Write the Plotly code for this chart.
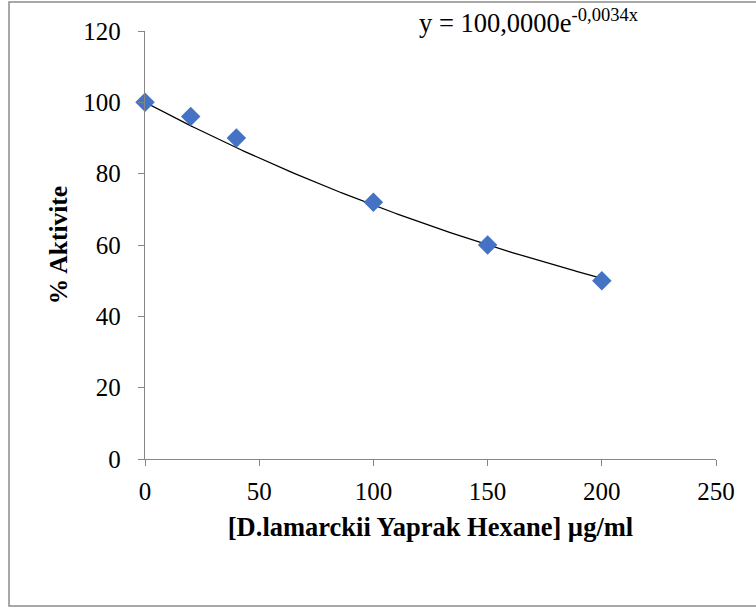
import numpy as np
import plotly.graph_objects as go

# Measured activity at each concentration
concentration = [0, 20, 40, 100, 150, 200]
activity = [100, 96, 90, 72, 60, 50]

# Exponential trendline parameters: y = a * exp(b * x)
fit_a = 100.0
fit_b = -0.0034

x_ticks = [0, 50, 100, 150, 200, 250]
y_ticks = [0, 20, 40, 60, 80, 100, 120]

W, H = 756, 607
ML, MR, MT, MB = 145, 40, 31, 148
pw, ph = W - ML - MR, H - MT - MB

def px_x(p):
    return (p - ML) / pw

def px_y(p):
    return (H - MB - p) / ph

fit_x = np.linspace(min(concentration), max(concentration), 200)
fit_y = fit_a * np.exp(fit_b * fit_x)

fig = go.Figure()
fig.add_trace(go.Scatter(
    x=fit_x, y=fit_y, mode="lines",
    line=dict(color="black", width=1.3),
    hoverinfo="skip", showlegend=False, cliponaxis=False,
))
fig.add_trace(go.Scatter(
    x=concentration, y=activity, mode="markers",
    marker=dict(symbol="diamond", size=15, color="#4472C4",
                line=dict(width=0)),
    showlegend=False, cliponaxis=False,
))

font_family = "Liberation Serif"
axis_common = dict(
    showgrid=False, zeroline=False, showline=True,
    linecolor="#868686", linewidth=1.3,
    ticks="outside", ticklen=6, tickcolor="#868686", tickwidth=1.3,
    tickfont=dict(family=font_family, size=25, color="black"),
)

fig.update_layout(
    width=W, height=H,
    margin=dict(l=ML, r=MR, t=MT, b=MB),
    paper_bgcolor="white", plot_bgcolor="white",
    font=dict(family=font_family),
    xaxis=dict(range=[0, 250], tickvals=x_ticks, **axis_common,
               ticklabelstandoff=4,
               title=dict(text="<b>[D.lamarckii Yaprak Hexane] µg/ml</b>",
                          font=dict(family=font_family, size=26.5, color="black"),
                          standoff=13)),
    yaxis=dict(range=[0, 120], tickvals=y_ticks, **axis_common,
               ticklabelstandoff=12,
               title=dict(text="<b>% Aktivite</b>",
                          font=dict(family=font_family, size=25.5, color="black"),
                          standoff=8)),
    annotations=[dict(
        xref="paper", yref="paper",
        x=px_x(417), y=px_y(21),
        xanchor="left", yanchor="middle",
        text="y = 100,0000e<sup>-0,0034x</sup>",
        showarrow=False,
        font=dict(family=font_family, size=26.5, color="black"),
    )],
    shapes=[dict(
        type="rect", xref="paper", yref="paper",
        x0=px_x(9), x1=px_x(W + 10), y0=px_y(606), y1=px_y(2),
        line=dict(color="#8c8c8c", width=1.5), fillcolor="rgba(0,0,0,0)",
        layer="below",
    )],
)

fig.write_html("out.html")
